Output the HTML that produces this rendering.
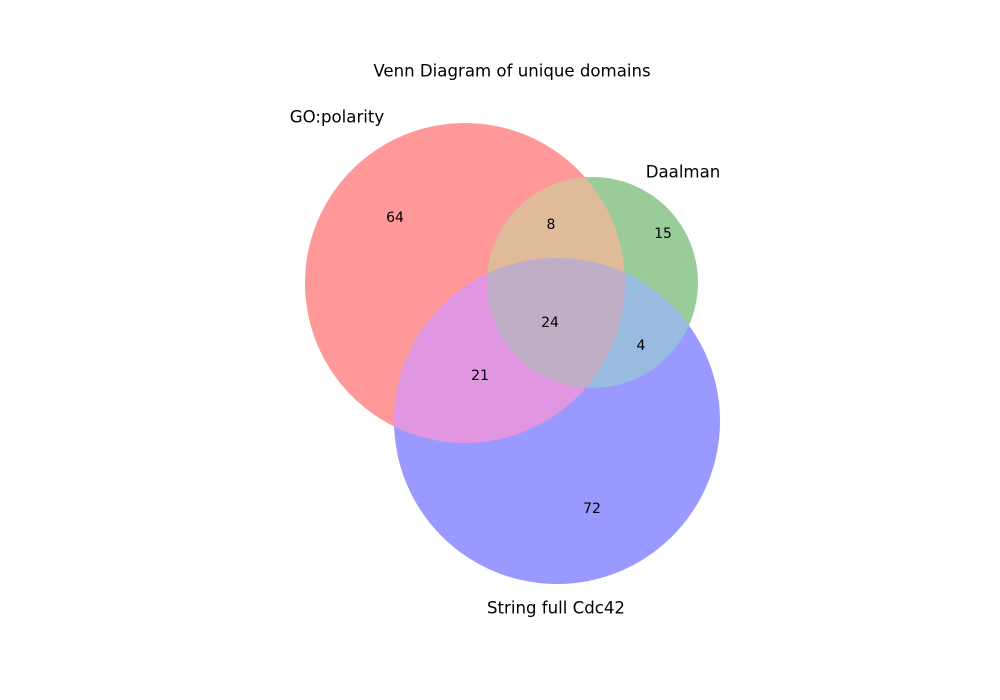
<!DOCTYPE html>
<html><head><meta charset="utf-8"><style>
body{margin:0;background:#fff;}
svg{display:block;font-family:"DejaVu Sans","Liberation Sans",sans-serif;}
</style></head><body>
<svg id="chart" width="1000" height="700" viewBox="0 0 1000 700">
<defs>
<clipPath id="clipA"><circle cx="465" cy="283" r="160"/></clipPath>
<clipPath id="clipB"><circle cx="592.5" cy="282.5" r="105.5"/></clipPath>
<clipPath id="clipAB" clip-path="url(#clipA)"><circle cx="592.5" cy="282.5" r="105.5"/></clipPath>
</defs>
<g id="regions"></g>
<g id="labels"></g>
</svg>
<script>
const setNames = ["GO:polarity", "Daalman", "String full Cdc42"];
const regionKeys = ["100", "010", "001", "110", "101", "011", "111"];
const regionCounts = [64, 15, 72, 8, 21, 4, 24];

const NS = "http://www.w3.org/2000/svg";
const R = document.getElementById('regions');
const L = document.getElementById('labels');
const circ = {A:{cx:465,cy:283,r:160}, B:{cx:592.5,cy:282.5,r:105.5}, C:{cx:557,cy:421,r:163}};
function circle(c, fill, clip, name){
  const e = document.createElementNS(NS,'circle');
  e.setAttribute('cx',c.cx); e.setAttribute('cy',c.cy); e.setAttribute('r',c.r);
  e.setAttribute('fill',fill);
  if(clip) e.setAttribute('clip-path','url(#'+clip+')');
  
  
  R.appendChild(e);
}
circle(circ.A,'#ff9999',null,'region-go-polarity');
circle(circ.B,'#99cc99',null,'region-daalman');
circle(circ.C,'#9999ff',null,'region-string-cdc42');
circle(circ.B,'#e0bb99','clipA','region-go-daalman');
circle(circ.C,'#e096e0','clipA','region-go-string');
circle(circ.C,'#99bbe0','clipB','region-daalman-string');
circle(circ.C,'#bfaec5','clipAB','region-all-three');

function text(x,y,s,size,name){
  const t = document.createElementNS(NS,'text');
  t.setAttribute('x',x); t.setAttribute('y',y);
  t.setAttribute('font-size',size); t.setAttribute('text-anchor','middle');
  t.setAttribute('dominant-baseline','central');
  t.textContent = s;
  
  
  L.appendChild(t);
}
const regionPos = {"100":[395,218],"010":[663,234],"001":[592,509],"110":[551,225],"101":[480,376],"011":[641,346],"111":[550,323]};
regionKeys.forEach((k,i)=>{ text(regionPos[k][0],regionPos[k][1],regionCounts[i],14,'count-'+k); });
const setPos = [[337,117],[683,172],[556,608]];
setNames.forEach((n,i)=>{ text(setPos[i][0],setPos[i][1],n,16.6,'set-label-'+i); });
text(512,71,'Venn Diagram of unique domains',16.6,'chart-title');
</script>
</body></html>
